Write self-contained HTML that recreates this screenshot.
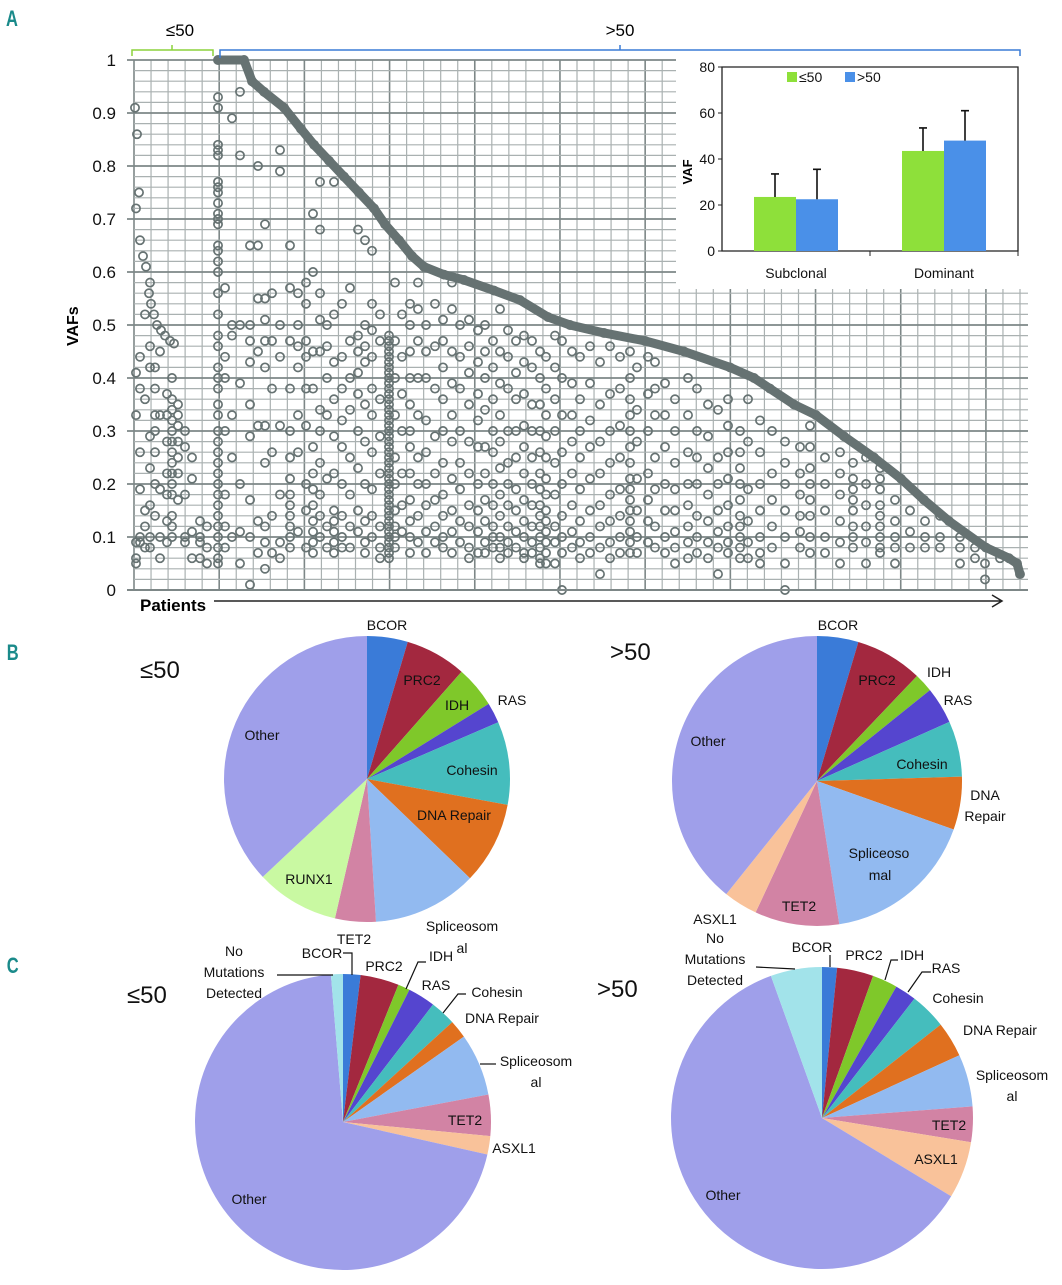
<!DOCTYPE html>
<html><head><meta charset="utf-8">
<style>
html,body{margin:0;padding:0;background:#fff;}
body{width:1062px;height:1280px;overflow:hidden;font-family:"Liberation Sans","DejaVu Sans",sans-serif;}
svg text{font-family:"Liberation Sans","DejaVu Sans",sans-serif;}
</style></head>
<body>
<svg id="fig" width="1062" height="1280" viewBox="0 0 1062 1280" xmlns="http://www.w3.org/2000/svg">
  <g id="panelA"></g>
  <g id="inset"></g>
  <g id="pies"></g>
  <g id="static">
    <text x="6" y="26" font-size="22" font-weight="bold" fill="#1a8a8a" transform="scale(0.75,1) translate(2,0)">A</text>
    <text x="9" y="660" font-size="22" font-weight="bold" fill="#1a8a8a" transform="scale(0.75,1)">B</text>
    <text x="9" y="973" font-size="22" font-weight="bold" fill="#1a8a8a" transform="scale(0.75,1)">C</text>
    <text x="180" y="36" font-size="17" text-anchor="middle">≤50</text>
    <text x="620" y="36" font-size="17" text-anchor="middle">&gt;50</text>
    <path d="M132,56 V50 H213 V56 M172,50 V45" stroke="#8cd23c" stroke-width="1.5" fill="none"/>
    <path d="M220,58 V50 H1020 V56 M620,50 V45" stroke="#3a7bd5" stroke-width="1.5" fill="none"/>
    <text x="0" y="0" font-size="16" font-weight="bold" transform="translate(78,346) rotate(-90)">VAFs</text>
    <text x="140" y="611" font-size="17" font-weight="bold">Patients</text>
    <path d="M214,601 H1002 M992,595 L1002,601 L992,607" stroke="#222" stroke-width="1.5" fill="none"/>
  </g>
</svg>
<script>
// ---------- Panel A data ----------
const yTicks = [0,0.1,0.2,0.3,0.4,0.5,0.6,0.7,0.8,0.9,1];
const yTickLabels = ["0","0.1","0.2","0.3","0.4","0.5","0.6","0.7","0.8","0.9","1"];
// dominant clone (sorted) curve: patient rank, VAF
const domPatients = [84,110,118,130,150,167,180,195,210,225,240,251,265,278,290,310,330,360,386,414,436,470,511,550,596,620,636,660,682,710,740,767,790,815,852,875,883,886];
const domVafs = [1,1,0.96,0.94,0.91,0.87,0.84,0.81,0.78,0.75,0.72,0.69,0.66,0.63,0.61,0.595,0.585,0.565,0.547,0.515,0.5,0.485,0.47,0.45,0.42,0.4,0.38,0.35,0.33,0.29,0.25,0.21,0.17,0.13,0.08,0.06,0.05,0.03];
// <=50 group dominant points
const leDomPatients = [1,3,5,2,6,9,12,15,17,20,23,27,31,36,40];
const leDomVafs = [0.91,0.86,0.75,0.72,0.66,0.63,0.61,0.56,0.54,0.52,0.5,0.49,0.48,0.47,0.465];
// subclonal mutations per patient column
const colPatients = [2,6,11,16,21,26,33,38,44,51,58,66,73,84,91,98,106,116,124,131,138,146,156,164,172,179,186,193,200,208,216,224,231,238,246,255,261,268,276,284,292,301,309,318,326,335,344,351,359,366,374,382,390,398,406,412,421,428,438,446,456,466,476,486,496,503,514,521,531,541,554,563,574,584,594,606,614,626,638,651,666,676,691,706,719,732,746,761,776,791,806,826,841,851,866];
const colVafs = [
 [0.41,0.33,0.09,0.06,0.05],
 [0.44,0.38,0.26,0.19,0.1,0.09],
 [0.52,0.36,0.15,0.12,0.08],
 [0.58,0.46,0.42,0.29,0.23,0.16,0.1,0.08],
 [0.42,0.38,0.33,0.3,0.26,0.2,0.14],
 [0.33,0.45,0.19,0.1,0.06],
 [0.37,0.33,0.28,0.22,0.18,0.13,0.09],
 [0.4,0.36,0.34,0.32,0.3,0.28,0.26,0.24,0.22,0.2,0.18,0.14,0.12,0.1],
 [0.35,0.33,0.31,0.28,0.25,0.22,0.17],
 [0.3,0.27,0.18,0.1,0.09],
 [0.25,0.21,0.11,0.06],
 [0.13,0.1,0.09,0.06],
 [0.12,0.08,0.05],
 [0.93,0.91,0.84,0.83,0.82,0.77,0.76,0.75,0.73,0.71,0.7,0.69,0.65,0.64,0.62,0.6,0.56,0.52,0.48,0.46,0.42,0.4,0.38,0.35,0.33,0.3,0.28,0.26,0.24,0.22,0.2,0.18,0.16,0.14,0.12,0.1,0.08,0.06,0.05],
 [0.57,0.44,0.4,0.3,0.18,0.12,0.08],
 [0.89,0.5,0.48,0.33,0.25,0.1],
 [0.82,0.5,0.39,0.2,0.11,0.05,0.94],
 [0.5,0.47,0.43,0.35,0.29,0.17,0.1,0.01,0.65],
 [0.8,0.65,0.55,0.45,0.31,0.13,0.07],
 [0.55,0.51,0.47,0.42,0.31,0.24,0.12,0.09,0.04,0.69],
 [0.56,0.47,0.38,0.26,0.14,0.07],
 [0.79,0.5,0.44,0.31,0.18,0.09,0.06,0.83],
 [0.65,0.57,0.47,0.38,0.3,0.25,0.21,0.18,0.16,0.14,0.12,0.1,0.08],
 [0.56,0.5,0.46,0.42,0.33,0.26,0.11],
 [0.54,0.47,0.44,0.38,0.31,0.2,0.15,0.08,0.58],
 [0.6,0.45,0.38,0.27,0.22,0.19,0.16,0.13,0.11,0.09,0.07,0.71],
 [0.68,0.56,0.51,0.45,0.34,0.3,0.24,0.18,0.14,0.1,0.77],
 [0.5,0.46,0.4,0.33,0.21,0.12,0.08],
 [0.77,0.52,0.43,0.36,0.29,0.22,0.15,0.13,0.11,0.09,0.07],
 [0.54,0.44,0.38,0.32,0.27,0.2,0.14,0.1,0.08],
 [0.57,0.47,0.4,0.34,0.25,0.18,0.12,0.08],
 [0.48,0.45,0.41,0.37,0.3,0.23,0.15,0.11,0.68],
 [0.5,0.46,0.43,0.35,0.28,0.2,0.13,0.09,0.07,0.66],
 [0.54,0.49,0.44,0.38,0.33,0.26,0.19,0.14,0.1,0.64],
 [0.52,0.47,0.36,0.29,0.22,0.12,0.08,0.06],
 [0.48,0.47,0.46,0.45,0.44,0.43,0.42,0.41,0.4,0.39,0.38,0.37,0.36,0.35,0.34,0.33,0.32,0.31,0.3,0.29,0.28,0.27,0.26,0.25,0.24,0.23,0.22,0.21,0.2,0.19,0.18,0.17,0.16,0.15,0.14,0.13,0.12,0.11,0.1,0.09,0.08,0.07,0.06],
 [0.47,0.4,0.33,0.25,0.2,0.15,0.12,0.1,0.08,0.58],
 [0.52,0.44,0.37,0.3,0.22,0.16,0.11],
 [0.54,0.5,0.45,0.4,0.35,0.3,0.27,0.22,0.17,0.13,0.1,0.07],
 [0.53,0.47,0.4,0.33,0.25,0.2,0.14,0.09,0.58],
 [0.5,0.45,0.4,0.32,0.26,0.2,0.16,0.11,0.07],
 [0.54,0.46,0.38,0.29,0.22,0.17,0.12,0.09],
 [0.51,0.47,0.42,0.36,0.3,0.24,0.18,0.14,0.1,0.08],
 [0.53,0.45,0.39,0.33,0.28,0.21,0.15,0.11,0.07,0.58],
 [0.5,0.44,0.38,0.3,0.24,0.19,0.13,0.09],
 [0.51,0.46,0.41,0.35,0.28,0.22,0.16,0.12,0.08,0.06],
 [0.49,0.43,0.37,0.32,0.27,0.2,0.15,0.11,0.07],
 [0.5,0.45,0.4,0.34,0.27,0.22,0.17,0.13,0.09,0.07],
 [0.47,0.42,0.36,0.3,0.26,0.2,0.16,0.12,0.1,0.08],
 [0.53,0.45,0.39,0.33,0.28,0.23,0.18,0.14,0.1,0.08,0.06],
 [0.49,0.44,0.38,0.3,0.24,0.2,0.16,0.12,0.09,0.07],
 [0.47,0.41,0.36,0.3,0.25,0.19,0.15,0.11,0.08],
 [0.48,0.43,0.37,0.31,0.27,0.22,0.17,0.13,0.1,0.07,0.06],
 [0.47,0.42,0.35,0.3,0.25,0.2,0.16,0.12,0.09,0.07],
 [0.45,0.4,0.35,0.3,0.26,0.22,0.19,0.16,0.14,0.12,0.1,0.08,0.06,0.05],
 [0.44,0.38,0.33,0.29,0.25,0.21,0.18,0.15,0.13,0.11,0.09,0.07,0.05],
 [0.48,0.42,0.36,0.3,0.24,0.18,0.12,0.09,0.05],
 [0.47,0.4,0.33,0.26,0.2,0.14,0.1,0.07,0.0],
 [0.45,0.39,0.33,0.28,0.22,0.16,0.11,0.08],
 [0.44,0.36,0.3,0.25,0.19,0.13,0.09,0.06],
 [0.46,0.39,0.32,0.27,0.21,0.15,0.1,0.07],
 [0.43,0.35,0.28,0.22,0.16,0.12,0.08,0.03],
 [0.46,0.37,0.3,0.24,0.18,0.13,0.09,0.06],
 [0.44,0.38,0.31,0.25,0.19,0.14,0.1,0.07],
 [0.45,0.4,0.36,0.33,0.3,0.27,0.24,0.21,0.19,0.17,0.15,0.13,0.11,0.09,0.07],
 [0.42,0.34,0.28,0.21,0.15,0.1,0.07],
 [0.44,0.37,0.3,0.22,0.17,0.13,0.09],
 [0.43,0.38,0.33,0.25,0.19,0.12,0.08],
 [0.39,0.33,0.27,0.2,0.15,0.1,0.07],
 [0.36,0.3,0.24,0.19,0.15,0.11,0.08,0.05],
 [0.4,0.33,0.26,0.2,0.16,0.12,0.09,0.06],
 [0.38,0.3,0.25,0.2,0.14,0.1,0.07],
 [0.35,0.29,0.23,0.18,0.13,0.09,0.06],
 [0.34,0.25,0.2,0.15,0.11,0.08,0.03],
 [0.36,0.31,0.26,0.21,0.16,0.12,0.09,0.07],
 [0.3,0.26,0.23,0.2,0.17,0.14,0.12,0.1,0.08,0.06],
 [0.36,0.28,0.19,0.13,0.09,0.06],
 [0.32,0.26,0.2,0.15,0.1,0.07,0.05],
 [0.3,0.22,0.17,0.12,0.08],
 [0.28,0.24,0.2,0.15,0.1,0.05,0.0],
 [0.27,0.22,0.18,0.14,0.11,0.08],
 [0.31,0.27,0.23,0.2,0.17,0.14,0.1,0.07],
 [0.25,0.2,0.15,0.1,0.07],
 [0.26,0.22,0.18,0.13,0.09,0.05],
 [0.24,0.21,0.19,0.17,0.15,0.12,0.1,0.08],
 [0.25,0.2,0.16,0.12,0.09,0.05],
 [0.23,0.21,0.19,0.16,0.14,0.12,0.1,0.08,0.07],
 [0.17,0.13,0.1,0.08,0.05],
 [0.15,0.11,0.08],
 [0.13,0.1,0.08],
 [0.14,0.1,0.08],
 [0.1,0.08,0.05],
 [0.08,0.06],
 [0.05,0.02],
 [0.06]
];
// ---------- Inset data ----------
const insetCats = ["Subclonal","Dominant"];
const insetSeries = ["≤50",">50"];
const insetLe50 = [23.5,43.5];
const insetGt50 = [22.5,48];
const insetErrLe50 = [10,10];
const insetErrGt50 = [13,13];
const insetTicks = [0,20,40,60,80];
// ---------- Pie data ----------
const pieB1Labels = ["BCOR","PRC2","IDH","RAS","Cohesin","DNA Repair","Spliceosomal","TET2","RUNX1","Other"];
const pieB1Values = [4.6,6.9,4.7,2.3,9.4,9.3,11.8,4.6,9.4,37.0];
const pieB2Labels = ["BCOR","PRC2","IDH","RAS","Cohesin","DNA Repair","Spliceosomal","TET2","ASXL1","Other"];
const pieB2Values = [4.6,7.5,2.1,4.1,6.2,5.9,17.1,9.4,3.8,39.2];
const pieC1Labels = ["BCOR","PRC2","IDH","RAS","Cohesin","DNA Repair","Spliceosomal","TET2","ASXL1","Other","No Mutations Detected"];
const pieC1Values = [1.9,4.2,1.3,3.0,2.8,2.0,6.8,4.5,2.0,70.1,1.3];
const pieC2Labels = ["BCOR","PRC2","IDH","RAS","Cohesin","DNA Repair","Spliceosomal","TET2","ASXL1","Other","No Mutations Detected"];
const pieC2Values = [1.6,3.9,2.7,2.3,3.9,3.8,5.6,3.8,6.1,60.9,5.5];

const NS="http://www.w3.org/2000/svg";
function mk(tag, attrs, parent){const e=document.createElementNS(NS,tag);for(const k in attrs)e.setAttribute(k,attrs[k]);parent.appendChild(e);return e;}

// ---------- Panel A ----------
const A=document.getElementById('panelA');
const X0=134,X1=1020,Y0=590,Y1=60,PMAX=886;
const xS=p=>X0+p*(X1-X0)/PMAX;
const yS=v=>Y0-v*(Y0-Y1);
for(let i=0;i<=52;i++){
  const x=X0+i*(X1-X0)/52;
  const major=i%5===0;
  const l=mk('line',{x1:x,x2:x,y1:Y1,y2:Y0,stroke:major?'#7d8787':'#aab1b1','stroke-width':major?1.6:1.2},A);
  
  
}
for(let i=0;i<=50;i++){
  const v=i*0.02,y=yS(v);
  const major=i%5===0;
  const l=mk('line',{x1:major?127:X0,x2:1028,y1:y,y2:y,stroke:major?'#7d8787':'#aab1b1','stroke-width':major?1.8:1.2},A);
  
  
}
yTicks.forEach((v,i)=>{
  const t=mk('text',{x:116,y:yS(v)+6,'font-size':17,'text-anchor':'end',fill:'#111'},A);
  t.textContent=yTickLabels[i];
  
  
});
const PT='#667272';
const R=4.1,SW=1.7;
let d='';
domPatients.forEach((p,i)=>{d+=(i?'L':'M')+xS(p)+','+yS(domVafs[i]);});
const dl=mk('path',{d:d,stroke:PT,'stroke-width':9,fill:'none','stroke-linejoin':'round','stroke-linecap':'round'},A);


domPatients.forEach((p,i)=>{
  const c=mk('circle',{cx:xS(p),cy:yS(domVafs[i]),r:R,fill:'none',stroke:PT,'stroke-width':SW},A);
  
  
});
leDomPatients.forEach((p,i)=>{
  const c=mk('circle',{cx:xS(p),cy:yS(leDomVafs[i]),r:R,fill:'none',stroke:PT,'stroke-width':SW},A);
  
  
});
colPatients.forEach((p,i)=>{
  colVafs[i].forEach(v=>{
    const c=mk('circle',{cx:xS(p),cy:yS(v),r:R,fill:'none',stroke:PT,'stroke-width':SW},A);
    
    
  });
});
const ax=mk('line',{x1:127,x2:1028,y1:Y0,y2:Y0,stroke:'#7d8787','stroke-width':2},A);



// ---------- Inset ----------
const I=document.getElementById('inset');
const bg=mk('rect',{x:676,y:56,width:354,height:233,fill:'#fff'},I);


const IX0=722,IX1=1018,IY0=251,IY1=67;
const iy=v=>IY0-v*(IY0-IY1)/80;
const box=mk('path',{d:`M${IX0},${IY1} H${IX1} V${IY0} H${IX0} Z`,stroke:'#222','stroke-width':1.3,fill:'none'},I);


insetTicks.forEach(v=>{
  const tk=mk('line',{x1:IX0-4,x2:IX0,y1:iy(v),y2:iy(v),stroke:'#222'},I);
  
  
  const t=mk('text',{x:IX0-7,y:iy(v)+5,'font-size':14,'text-anchor':'end',fill:'#111'},I);
  t.textContent=v;
  
  
});
const yt=mk('text',{x:0,y:0,'font-size':13,'font-weight':'bold',transform:'translate(692,172) rotate(-90)','text-anchor':'middle'},I);
yt.textContent='VAF';


const bw=42,grpW=(IX1-IX0)/2;
[IX0+grpW,IX1].forEach(x=>{const tk=mk('line',{x1:x,x2:x,y1:IY0,y2:IY0+5,stroke:'#222'},I);});
insetCats.forEach((c,i)=>{
  const cx=IX0+grpW*(i+0.5);
  [[insetLe50,insetErrLe50,'#8ee03a',-1],[insetGt50,insetErrGt50,'#4a90e8',0]].forEach(([vals,errs,col,off],k)=>{
    const x=cx+off*bw;
    const r=mk('rect',{x:x,y:iy(vals[i]),width:bw,height:IY0-iy(vals[i]),fill:col},I);
    
    
    const ex=x+bw/2;
    const e=mk('path',{d:`M${ex},${iy(vals[i])} V${iy(vals[i]+errs[i])} M${ex-4},${iy(vals[i]+errs[i])} H${ex+4}`,stroke:'#111','stroke-width':1.6,fill:'none'},I);
    
    
  });
  const t=mk('text',{x:cx,y:278,'font-size':14,'text-anchor':'middle',fill:'#111'},I);
  t.textContent=c;
  
  
});
[[787,'#8ee03a',0],[845,'#4a90e8',1]].forEach(([x,col,i])=>{
  const r=mk('rect',{x:x,y:72,width:10,height:10,fill:col},I);
  
  
  const t=mk('text',{x:x+12,y:82,'font-size':14,fill:'#111'},I);
  t.textContent=insetSeries[i];
  
  
});

// ---------- Pies ----------
const P=document.getElementById('pies');
const colorMap={"BCOR":"#3a7bd8","PRC2":"#a3283f","IDH":"#7fc82a","RAS":"#5545cf","Cohesin":"#45bdbd","DNA Repair":"#e0701f","Spliceosomal":"#92baf0","TET2":"#d283a4","RUNX1":"#c9f9a2","Other":"#9f9fea","ASXL1":"#f9c29a","No Mutations Detected":"#a2e3ea"};
function pie(cx,cy,r,labels,vals,name){
  const g=mk('g',{},P);
  
  
  const tot=vals.reduce((a,b)=>a+b,0);
  let a0=0;
  labels.forEach((lb,i)=>{
    const a1=a0+vals[i]/tot*2*Math.PI;
    const x0=cx+r*Math.sin(a0),y0=cy-r*Math.cos(a0),x1=cx+r*Math.sin(a1),y1=cy-r*Math.cos(a1);
    const large=(a1-a0)>Math.PI?1:0;
    const s=mk('path',{d:`M${cx},${cy} L${x0},${y0} A${r},${r} 0 ${large} 1 ${x1},${y1} Z`,fill:colorMap[lb]},g);
    
    
    a0=a1;
  });
}
pie(367,779,143,pieB1Labels,pieB1Values,'pie-b-le50');
pie(817,781,145,pieB2Labels,pieB2Values,'pie-b-gt50');
pie(343,1122,148,pieC1Labels,pieC1Values,'pie-c-le50');
pie(822,1118,151,pieC2Labels,pieC2Values,'pie-c-gt50');

const pieTexts=[
 ["≤50",140,678,24,"start"],["BCOR",387,630,14,"middle"],["PRC2",422,685,14,"middle"],["IDH",457,710,14,"middle"],["RAS",512,705,14,"middle"],["Other",262,740,14,"middle"],["Cohesin",472,775,14,"middle"],["DNA Repair",454,820,14,"middle"],["RUNX1",309,884,14,"middle"],["Spliceosom",462,931,14,"middle"],["al",462,953,14,"middle"],
 [">50",610,660,24,"start"],["BCOR",838,630,14,"middle"],["PRC2",877,685,14,"middle"],["IDH",939,677,14,"middle"],["RAS",958,705,14,"middle"],["Other",708,746,14,"middle"],["Cohesin",922,769,14,"middle"],["DNA",985,800,14,"middle"],["Repair",985,821,14,"middle"],["Spliceoso",879,858,14,"middle"],["mal",880,880,14,"middle"],["TET2",799,911,14,"middle"],["ASXL1",715,924,14,"middle"],
 ["≤50",127,1003,24,"start"],["No",234,956,14,"middle"],["Mutations",234,977,14,"middle"],["Detected",234,998,14,"middle"],["BCOR",322,958,14,"middle"],["TET2",354,944,14,"middle"],["PRC2",384,971,14,"middle"],["IDH",441,961,14,"middle"],["RAS",436,990,14,"middle"],["Cohesin",497,997,14,"middle"],["DNA Repair",502,1023,14,"middle"],["Spliceosom",536,1066,14,"middle"],["al",536,1087,14,"middle"],["TET2",465,1125,14,"middle"],["ASXL1",514,1153,14,"middle"],["Other",249,1204,14,"middle"],
 [">50",597,997,24,"start"],["No",715,943,14,"middle"],["Mutations",715,964,14,"middle"],["Detected",715,985,14,"middle"],["BCOR",812,952,14,"middle"],["PRC2",864,960,14,"middle"],["IDH",912,960,14,"middle"],["RAS",946,973,14,"middle"],["Cohesin",958,1003,14,"middle"],["DNA Repair",1000,1035,14,"middle"],["Spliceosom",1012,1080,14,"middle"],["al",1012,1101,14,"middle"],["TET2",949,1130,14,"middle"],["ASXL1",936,1164,14,"middle"],["Other",723,1200,14,"middle"]
];
pieTexts.forEach(([s,x,y,fs,an])=>{
  const t=mk('text',{x:x,y:y,'font-size':fs,'text-anchor':an,fill:'#111'},P);
  t.textContent=s;
  
  
});
const leaders=["M277,975 H333","M343,953 H352 V975","M426,962 H418 L406,989","M466,994 H458 L443,1013","M496,1064 H480",
 "M756,967 L795,969","M830,955 V967","M898,960 H891 L885,980","M931,972 H922 L908,992"];
leaders.forEach(d=>{
  const l=mk('path',{d:d,stroke:'#111','stroke-width':1.2,fill:'none'},P);
  
  
});
</script>
</body></html>
